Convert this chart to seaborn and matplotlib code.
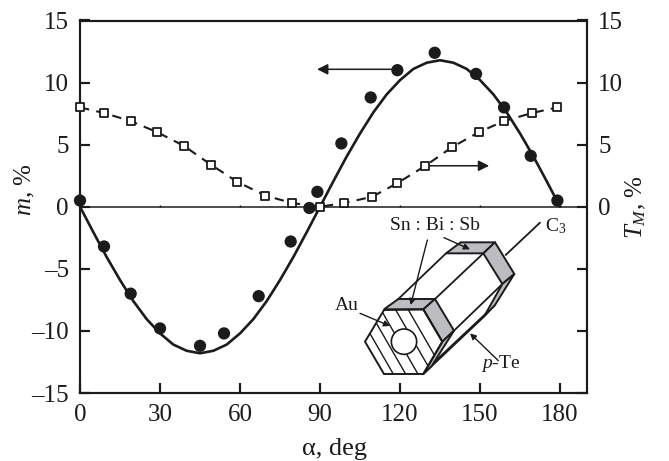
import matplotlib
matplotlib.use("Agg")
import matplotlib.pyplot as plt
from matplotlib.patches import Polygon, Circle
import seaborn as sns

# measured points
alpha_m = [0, 9, 19, 30, 45, 54, 67, 79, 86, 89, 98, 109, 119, 133, 148.5, 159, 169, 179]
m_pts = [0.5, -3.2, -7, -9.8, -11.2, -10.2, -7.2, -2.8, -0.1, 1.2, 5.1, 8.8, 11, 12.4, 10.7, 8, 4.1, 0.5]

alpha_t = [0, 9, 19, 29, 39, 49, 59, 69.5, 79.5, 90, 99, 109.5, 119, 129.5, 139.5, 149.5, 159, 169.5, 179]
t_pts = [8, 7.55, 6.9, 6, 4.9, 3.4, 2, 0.9, 0.3, 0, 0.3, 0.8, 1.9, 3.3, 4.8, 6, 6.9, 7.55, 8]

alpha_curve = list(range(0, 185, 5))
m_curve = [0, -2.05, -4.05, -5.9, -7.6, -9.05, -10.2, -11.1, -11.6, -11.8, -11.6, -11.1, -10.2,
           -9.05, -7.6, -5.9, -4.05, -2.05, 0, 2.05, 4.05, 5.9, 7.6, 9.05, 10.2, 11.1, 11.6, 11.8,
           11.6, 11.1, 10.2, 9.05, 7.6, 5.9, 4.05, 2.05, 0]

x_ticks = [0, 30, 60, 90, 120, 150, 180]
y_ticks = [-15, -10, -5, 0, 5, 10, 15]
y_left_labels = ["–15", "–10", "–5", "0", "5", "10", "15"]
y_right_labels = ["", "", "", "0", "5", "10", "15"]

ink = "#1c1a1b"
gray = "#bcbdc0"

sns.set_theme(style="ticks")
plt.rcParams["font.family"] = ["Liberation Serif", "DejaVu Serif"]
plt.rcParams["mathtext.fontset"] = "custom"
plt.rcParams["mathtext.rm"] = "Liberation Serif"
plt.rcParams["mathtext.it"] = "Liberation Serif:italic"
plt.rcParams["text.color"] = ink

W, H = 669, 461
fig = plt.figure(figsize=(W / 100, H / 100), dpi=100, facecolor="white")
box = [80 / W, 1 - 393 / H, (587 - 80) / W, (393 - 20.5) / H]
ax = fig.add_axes(box)
ax2 = ax.twinx()

sns.lineplot(x=alpha_curve, y=m_curve, ax=ax, color=ink, lw=1.9, zorder=3)
sns.scatterplot(x=alpha_m, y=m_pts, ax=ax, color=ink, s=78, edgecolor="none", zorder=4, clip_on=False)
sns.lineplot(x=alpha_t, y=t_pts, ax=ax2, color=ink, lw=1.5, zorder=3, linestyle=(0, (4.5, 3.5)))
sns.scatterplot(x=alpha_t, y=t_pts, ax=ax2, marker="s", s=26, facecolor="white", edgecolor=ink,
                linewidth=1.3, zorder=4, clip_on=False)

ax.axhline(0, color=ink, lw=1.1, zorder=1)
ax.set_xlim(0, 190.1)
ax.set_ylim(-15, 15)
ax2.set_ylim(-15, 15)

ax.set_xticks(x_ticks)
ax.set_yticks(y_ticks)
ax.set_yticklabels(y_left_labels)
ax2.set_yticks(y_ticks)
ax2.set_yticklabels(y_right_labels)
ax.tick_params(axis="both", direction="in", length=7.5, width=1.5, pad=8, labelsize=18, color=ink, labelcolor=ink)
ax2.tick_params(axis="y", direction="in", length=7.5, width=1.5, pad=8, labelsize=18, color=ink, labelcolor=ink)

# small ticks on the zero line
mid = ax.secondary_xaxis(0.5)
mid.set_xticks(x_ticks)
mid.set_xticklabels([])
mid.tick_params(axis="x", direction="out", length=1.5, width=1, color=ink)
mid.spines["top"].set_visible(False)
mid.spines["bottom"].set_visible(False)

for a in (ax, ax2):
    for s in a.spines.values():
        s.set_linewidth(1.5)
        s.set_color(ink)
    a.set_xlabel("")
    a.set_ylabel("")

fig.text(334 / W, 1 - 449 / H, "α, deg", ha="center", va="center", fontsize=19)
fig.text(25 / W, 1 - 190 / H, r"$m$, %", ha="center", va="center", rotation=90, fontsize=18)
fig.text(636 / W, 1 - 207 / H, r"$T_M$, %", ha="center", va="center", rotation=90, fontsize=18)

# direction arrows
ax.annotate("", xy=(88.9, 11.07), xytext=(118.8, 11.07),
            arrowprops=dict(arrowstyle="-|>", color=ink, lw=1.1, mutation_scale=16, shrinkA=0, shrinkB=0))
ax2.annotate("", xy=(153.4, 3.3), xytext=(129.5, 3.3),
             arrowprops=dict(arrowstyle="-|>", color=ink, lw=1.1, mutation_scale=16, shrinkA=0, shrinkB=0))

# crystal sketch, on an overlay in zoomed-picture coordinates
ov = fig.add_axes([0, 0, 1, 1], facecolor="none")
ov.set_xlim(-1020, 987)
ov.set_ylim(783, -600)
ov.axis("off")

front = [(75, 425), (132, 330), (250, 328), (307, 425), (250, 522), (132, 522)]
hex_patch = Polygon(front, closed=True, fc="white", ec="none", zorder=2)
ov.add_patch(hex_patch)
for xc in [104, 141, 178, 222, 260]:
    line, = ov.plot([xc - 72, xc + 72], [300, 550], color=ink, lw=1, zorder=3)
    line.set_clip_path(hex_patch)

shaded = [
    [(132, 328), (175, 297), (285, 297), (250, 328)],
    [(250, 328), (285, 297), (342, 392), (307, 425)],
    [(307, 425), (342, 392), (275, 498), (250, 522)],
    [(318, 160), (362, 127), (465, 127), (430, 160)],
    [(430, 160), (465, 127), (523, 222), (487, 252)],
    [(487, 252), (523, 222), (465, 315), (432, 350)],
]
for poly in shaded:
    ov.add_patch(Polygon(poly, closed=True, fc=gray, ec=ink, lw=1.4, zorder=4))
ov.add_patch(Polygon(front, closed=True, fc="none", ec=ink, lw=1.4, zorder=5))
ov.add_patch(Circle((192, 425), 38, fc="white", ec=ink, lw=1.2, zorder=6))

for x0, y0, x1, y1 in [(175, 297, 318, 160), (285, 297, 430, 160), (342, 392, 487, 252),
                       (250, 522, 432, 350), (270, 498, 465, 315), (497, 165, 600, 68)]:
    ov.plot([x0, x1], [y0, y1], color=ink, lw=1.3, zorder=3)

for tail, tip in [((262, 120), (212, 315)), ((312, 113), (390, 148)),
                  ((60, 340), (150, 378)), ((475, 482), (390, 400))]:
    ov.annotate("", xy=tip, xytext=tail, zorder=7,
                arrowprops=dict(arrowstyle="-|>", color=ink, lw=1, mutation_scale=9, shrinkA=0, shrinkB=0))

ov.text(285, 75, "Sn : Bi : Sb", ha="center", va="center", fontsize=14)
ov.text(615, 78, r"C$_3$", ha="left", va="center", fontsize=14)
ov.text(55, 315, "Au", ha="right", va="center", fontsize=14)
ov.text(482, 490, r"$p$-Te", ha="center", va="center", fontsize=14)

# tick marks again on a clear top layer, main axes ones were not showing
top = fig.add_axes(box, facecolor="none")
top.set_xlim(0, 190.1)
top.set_ylim(-15, 15)
top.set_xticks(x_ticks)
top.set_yticks(y_ticks)
top.tick_params(axis="both", direction="in", length=7.5, width=1.5, color=ink,
                bottom=True, left=True, right=True, labelbottom=False, labelleft=False)
for s in top.spines.values():
    s.set_visible(False)

fig.savefig("out.png", dpi=100, facecolor="white")
